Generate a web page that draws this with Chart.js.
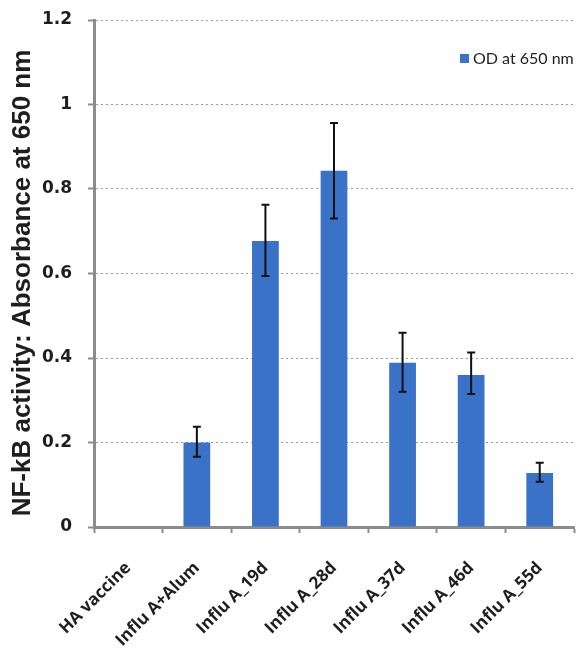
<!DOCTYPE html>
<html>
<head>
<meta charset="utf-8">
<script src="https://cdn.jsdelivr.net/npm/chart.js@4"></script>
<style>
  html, body { margin: 0; padding: 0; background: #ffffff; }
  #wrap { width: 577px; height: 652px; }
</style>
</head>
<body>
<div id="wrap"><canvas id="c" width="577" height="652"></canvas></div>
<script>
// Categories and measured NF-kB activity (OD at 650 nm) with error ranges
const categories = ['HA vaccine', 'Influ A+Alum', 'Influ A_19d', 'Influ A_28d', 'Influ A_37d', 'Influ A_46d', 'Influ A_55d'];
const odValues   = [0, 0.200, 0.677, 0.843, 0.389, 0.360, 0.128];
const errLow     = [null, 0.166, 0.594, 0.730, 0.320, 0.315, 0.107];
const errHigh    = [null, 0.237, 0.763, 0.956, 0.460, 0.413, 0.152];
const yTickValues = [0, 0.2, 0.4, 0.6, 0.8, 1, 1.2];
const yTickLabels = ['0', '0.2', '0.4', '0.6', '0.8', '1', '1.2'];
const seriesName = 'OD at 650 nm';
const yTitle = 'NF-kB activity: Absorbance at 650 nm';

const barColor = '#3a72c8';
const axisGray = '#8c8c8c';
const textColor = '#1e1e1e';

// Keep the plot frame fixed: no extra room reserved for overhanging labels
function clearScalePadding(scale) {
  scale.paddingTop = 0;
  scale.paddingBottom = 0;
  scale.paddingLeft = 0;
  scale.paddingRight = 0;
}

// Error bars drawn through the y scale
const errorBars = {
  id: 'errorBars',
  afterDatasetsDraw(chart) {
    const ctx = chart.ctx;
    const meta = chart.getDatasetMeta(0);
    const y = chart.scales.y;
    ctx.save();
    ctx.strokeStyle = '#111111';
    ctx.lineWidth = 2;
    meta.data.forEach((bar, i) => {
      if (errLow[i] == null || errHigh[i] == null) return;
      const x = bar.x;
      const y1 = y.getPixelForValue(errLow[i]);
      const y2 = y.getPixelForValue(errHigh[i]);
      const cap = 4;
      ctx.beginPath();
      ctx.moveTo(x, y1); ctx.lineTo(x, y2);
      ctx.moveTo(x - cap, y1); ctx.lineTo(x + cap, y1);
      ctx.moveTo(x - cap, y2); ctx.lineTo(x + cap, y2);
      ctx.stroke();
    });
    ctx.restore();
  }
};

// Rotated y-axis title and the in-plot legend
const annotations = {
  id: 'annotations',
  afterDraw(chart) {
    const ctx = chart.ctx;
    const area = chart.chartArea;
    ctx.save();
    ctx.fillStyle = textColor;
    ctx.font = 'bold 26px "Liberation Sans", Arial, sans-serif';
    ctx.textAlign = 'center';
    ctx.textBaseline = 'middle';
    ctx.translate(23, 283);
    ctx.rotate(-Math.PI / 2);
    ctx.fillText(yTitle, 0, 0);
    ctx.restore();

    const ds = chart.data.datasets[0];
    ctx.save();
    ctx.fillStyle = ds.backgroundColor;
    ctx.fillRect(area.right - 114, 54, 9, 9);
    ctx.fillStyle = textColor;
    ctx.font = '16px Lato, "Open Sans", sans-serif';
    ctx.textAlign = 'left';
    ctx.textBaseline = 'middle';
    ctx.fillText(ds.label, area.right - 101, 59);
    ctx.restore();
  }
};

new Chart(document.getElementById('c'), {
  type: 'bar',
  data: {
    labels: categories,
    datasets: [{
      label: seriesName,
      data: odValues,
      backgroundColor: barColor,
      borderWidth: 0,
      categoryPercentage: 1,
      barPercentage: 0.39
    }]
  },
  options: {
    responsive: false,
    animation: false,
    devicePixelRatio: 1,
    layout: { padding: { top: 20, right: 3, bottom: 0, left: 0 } },
    plugins: {
      legend: { display: false },
      tooltip: { enabled: false }
    },
    scales: {
      x: {
        offset: true,
        afterFit(scale) { scale.height = 125; clearScalePadding(scale); },
        grid: {
          offset: true,
          drawOnChartArea: false,
          drawTicks: true,
          tickLength: 6,
          tickColor: axisGray,
          tickWidth: 2
        },
        border: { color: axisGray, width: 3 },
        ticks: {
          autoSkip: false,
          maxRotation: 45,
          minRotation: 45,
          padding: 25,
          color: textColor,
          font: { family: '"Open Sans", Lato, sans-serif', size: 17, weight: 'bold' }
        }
      },
      y: {
        min: 0,
        max: 1.2,
        afterFit(scale) { scale.width = 94; clearScalePadding(scale); },
        afterBuildTicks(scale) { scale.ticks = yTickValues.map(v => ({ value: v })); },
        grid: {
          color: '#9a9a9a',
          lineWidth: 1,
          drawTicks: true,
          tickLength: 6,
          tickColor: axisGray,
          tickWidth: 2
        },
        border: { color: axisGray, width: 3, dash: [2, 3] },
        ticks: {
          padding: 16,
          color: textColor,
          font: { family: '"DejaVu Sans", Verdana, sans-serif', size: 17, weight: 'bold' },
          callback(value) {
            const i = yTickValues.findIndex(v => Math.abs(v - value) < 1e-9);
            return i >= 0 ? yTickLabels[i] : '';
          }
        }
      }
    }
  },
  plugins: [errorBars, annotations]
});
</script>
</body>
</html>
